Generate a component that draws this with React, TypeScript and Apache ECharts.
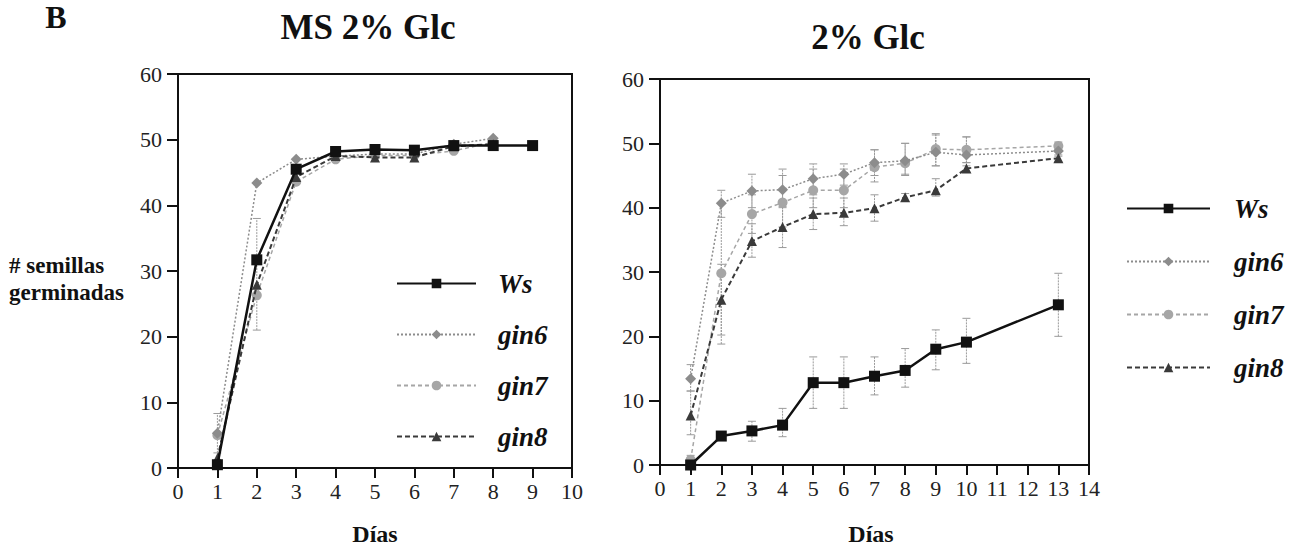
import React, { useEffect, useRef } from "react";
import * as echarts from "echarts";

// ---- Left panel: MS 2% Glc ----
const leftDaysWs = [1, 2, 3, 4, 5, 6, 7, 8, 9];
const leftWs = [0.5, 31.7, 45.5, 48.2, 48.5, 48.4, 49.1, 49.1, 49.1];
const leftDaysGin = [1, 2, 3, 4, 5, 6, 7, 8];
const leftGin6 = [5.3, 43.4, 47.0, 47.5, 47.8, 47.8, 49.3, 50.2];
const leftGin7 = [5.0, 26.3, 43.6, 47.0, 47.6, 47.6, 48.3, 49.6];
const leftGin8 = [1.5, 27.9, 44.3, 47.5, 47.3, 47.3, 49.0, 49.3];
// error bars (day, low, high)
const leftErrDays = [1, 2];
const leftErrLow = [2.3, 21.0];
const leftErrHigh = [8.3, 38.0];

// ---- Right panel: 2% Glc ----
const rightDays = [1, 2, 3, 4, 5, 6, 7, 8, 9, 10, 13];
const rightWs = [0, 4.5, 5.3, 6.2, 12.8, 12.8, 13.8, 14.7, 18.0, 19.1, 24.9];
const rightGin6 = [13.4, 40.7, 42.6, 42.8, 44.5, 45.2, 47.0, 47.3, 48.6, 48.2, 48.8];
const rightGin7 = [0.8, 29.8, 39.0, 40.8, 42.7, 42.7, 46.3, 46.9, 49.1, 49.0, 49.6];
const rightGin8 = [7.7, 25.7, 34.8, 37.0, 39.0, 39.2, 39.9, 41.6, 42.7, 46.1, 47.7];

const rightWsLow = [0, 4.5, 3.7, 4.4, 8.8, 8.8, 10.9, 12.1, 14.8, 15.8, 20.0];
const rightWsHigh = [0, 4.5, 6.8, 8.8, 16.8, 16.8, 16.8, 18.1, 21.0, 22.8, 29.8];
const rightGin6Low = [11.5, 38.5, 40.0, 40.0, 42.0, 43.5, 45.0, 45.2, 46.5, 46.5, 48.0];
const rightGin6High = [15.6, 42.7, 45.2, 46.0, 46.8, 46.8, 49.0, 50.0, 51.3, 51.0, 49.5];
const rightGin7Low = [0, 18.8, 36.0, 37.0, 40.0, 40.0, 44.0, 45.0, 46.5, 47.0, 49.0];
const rightGin7High = [1.5, 40.8, 42.0, 45.0, 46.0, 46.0, 49.0, 50.0, 51.5, 51.0, 50.2];
const rightGin8Low = [4.7, 20.2, 32.3, 33.8, 36.6, 37.2, 37.9, 41.0, 41.8, 45.5, 47.2];
const rightGin8High = [11.5, 31.2, 37.5, 40.2, 41.5, 41.5, 42.0, 42.2, 44.5, 47.0, 48.2];

const seriesNames = ["Ws", "gin6", "gin7", "gin8"];
const yTicks = [0, 10, 20, 30, 40, 50, 60];

const SERIF = "Liberation Serif";

const styles: Record<string, any> = {
  Ws: { color: "#111", width: 2.5, type: "solid", symbol: "rect", size: 11 },
  gin6: { color: "#8c8c8c", width: 1.5, type: [2, 2], symbol: "diamond", size: 11 },
  gin7: { color: "#a6a6a6", width: 1.5, type: [4, 3], symbol: "circle", size: 10 },
  gin8: { color: "#3a3a3a", width: 2, type: [5, 3], symbol: "triangle", size: 10 },
};

function pairs(xs: number[], ys: number[]) {
  return xs.map((x, i) => [x, ys[i]]);
}
function errs(xs: number[], lo: number[], hi: number[]) {
  return xs.map((x, i) => [x, lo[i], hi[i]]).filter((r) => r[2] > r[1]);
}

function lineSeries(name: string, data: number[][], idx: number) {
  const s = styles[name];
  return {
    type: "line",
    name,
    xAxisIndex: idx,
    yAxisIndex: idx,
    data,
    symbol: s.symbol,
    symbolSize: s.size,
    showSymbol: true,
    z: name === "Ws" ? 5 : name === "gin8" ? 4 : 3,
    lineStyle: { color: s.color, width: s.width, type: s.type },
    itemStyle: { color: s.color },
  };
}

function errSeries(data: number[][], idx: number) {
  return {
    type: "custom",
    name: "err",
    xAxisIndex: idx,
    yAxisIndex: idx,
    z: 1,
    data,
    renderItem: (params: any, api: any) => {
      const x = api.value(0);
      const lo = api.value(1);
      const hi = api.value(2);
      const pLo = api.coord([x, lo]);
      const pHi = api.coord([x, hi]);
      const w = 4;
      const st = { stroke: "#9a9a9a", lineWidth: 1 };
      return {
        type: "group",
        children: [
          { type: "line", shape: { x1: pLo[0], y1: pLo[1], x2: pHi[0], y2: pHi[1] }, style: { ...st, lineDash: [2, 1] } },
          { type: "line", shape: { x1: pHi[0] - w, y1: pHi[1], x2: pHi[0] + w, y2: pHi[1] }, style: st },
          { type: "line", shape: { x1: pLo[0] - w, y1: pLo[1], x2: pLo[0] + w, y2: pLo[1] }, style: st },
        ],
      };
    },
  };
}

function xAxis(max: number, gridIndex: number) {
  return {
    type: "value",
    gridIndex,
    min: 0,
    max,
    interval: 1,
    axisLine: { show: true, onZero: false, lineStyle: { color: "#111", width: 2 } },
    axisTick: { show: true, inside: false, length: 10, lineStyle: { color: "#111", width: 2 } },
    axisLabel: { color: "#222", fontFamily: SERIF, fontSize: 22, margin: 12 },
    splitLine: { show: false },
  };
}
function yAxis(gridIndex: number) {
  return {
    type: "value",
    gridIndex,
    min: yTicks[0],
    max: yTicks[yTicks.length - 1],
    interval: 10,
    axisLine: { show: true, onZero: false, lineStyle: { color: "#111", width: 2 } },
    axisTick: { show: true, inside: false, length: 11, lineStyle: { color: "#111", width: 2 } },
    axisLabel: { color: "#222", fontFamily: SERIF, fontSize: 22, margin: 16 },
    splitLine: { show: false },
  };
}

function legend(left: number, top: number, width: number, gap: number, pad: number) {
  return {
    data: seriesNames,
    orient: "vertical",
    left,
    top,
    padding: 0,
    itemWidth: width,
    itemHeight: 12,
    itemGap: gap,
    selectedMode: false,
    textStyle: {
      fontFamily: SERIF,
      fontWeight: "bold",
      fontStyle: "italic",
      fontSize: 27,
      color: "#111",
      padding: [0, 0, 0, pad],
    },
  };
}

function txt(x: number, y: number, text: string, size: number, align = "center") {
  return {
    type: "text",
    x,
    y,
    style: {
      text,
      fontFamily: SERIF,
      fontWeight: "bold",
      fontSize: size,
      fill: "#111",
      align,
      verticalAlign: "middle",
    },
  };
}

export default function App() {
  const ref = useRef<HTMLDivElement>(null);
  useEffect(() => {
    if (!ref.current) return;
    const chart = echarts.init(ref.current, undefined, { renderer: "svg" });
    const option: any = {
      animation: false,
      backgroundColor: "#fff",
      textStyle: { fontFamily: SERIF },
      grid: [
        { left: 178, top: 74, width: 394, height: 394, show: true, borderColor: "#111", borderWidth: 2, backgroundColor: "transparent" },
        { left: 660, top: 79, width: 429, height: 386, show: true, borderColor: "#111", borderWidth: 2, backgroundColor: "transparent" },
      ],
      xAxis: [xAxis(10, 0), xAxis(14, 1)],
      yAxis: [yAxis(0), yAxis(1)],
      legend: [legend(396, 270, 79, 24, 17), legend(1126, 195, 83, 26, 19)],
      series: [
        errSeries(errs(leftErrDays, leftErrLow, leftErrHigh), 0),
        lineSeries("gin7", pairs(leftDaysGin, leftGin7), 0),
        lineSeries("gin6", pairs(leftDaysGin, leftGin6), 0),
        lineSeries("gin8", pairs(leftDaysGin, leftGin8), 0),
        lineSeries("Ws", pairs(leftDaysWs, leftWs), 0),
        errSeries(errs(rightDays, rightWsLow, rightWsHigh), 1),
        errSeries(errs(rightDays, rightGin6Low, rightGin6High), 1),
        errSeries(errs(rightDays, rightGin7Low, rightGin7High), 1),
        errSeries(errs(rightDays, rightGin8Low, rightGin8High), 1),
        lineSeries("gin7", pairs(rightDays, rightGin7), 1),
        lineSeries("gin6", pairs(rightDays, rightGin6), 1),
        lineSeries("gin8", pairs(rightDays, rightGin8), 1),
        lineSeries("Ws", pairs(rightDays, rightWs), 1),
      ],
      graphic: [
        txt(56, 17, "B", 32),
        txt(368, 27, "MS 2% Glc", 35),
        txt(868, 37, "2% Glc", 35),
        txt(9, 265, "# semillas", 23, "left"),
        txt(9, 292, "germinadas", 23, "left"),
        txt(375, 534, "Días", 24),
        txt(871, 534, "Días", 24),
      ],
    };
    chart.setOption(option);
    return () => chart.dispose();
  }, []);
  return (
    <div
      ref={ref}
      style={{ position: "fixed", left: 0, top: 0, width: 1301, height: 548, background: "#fff" }}
    />
  );
}
